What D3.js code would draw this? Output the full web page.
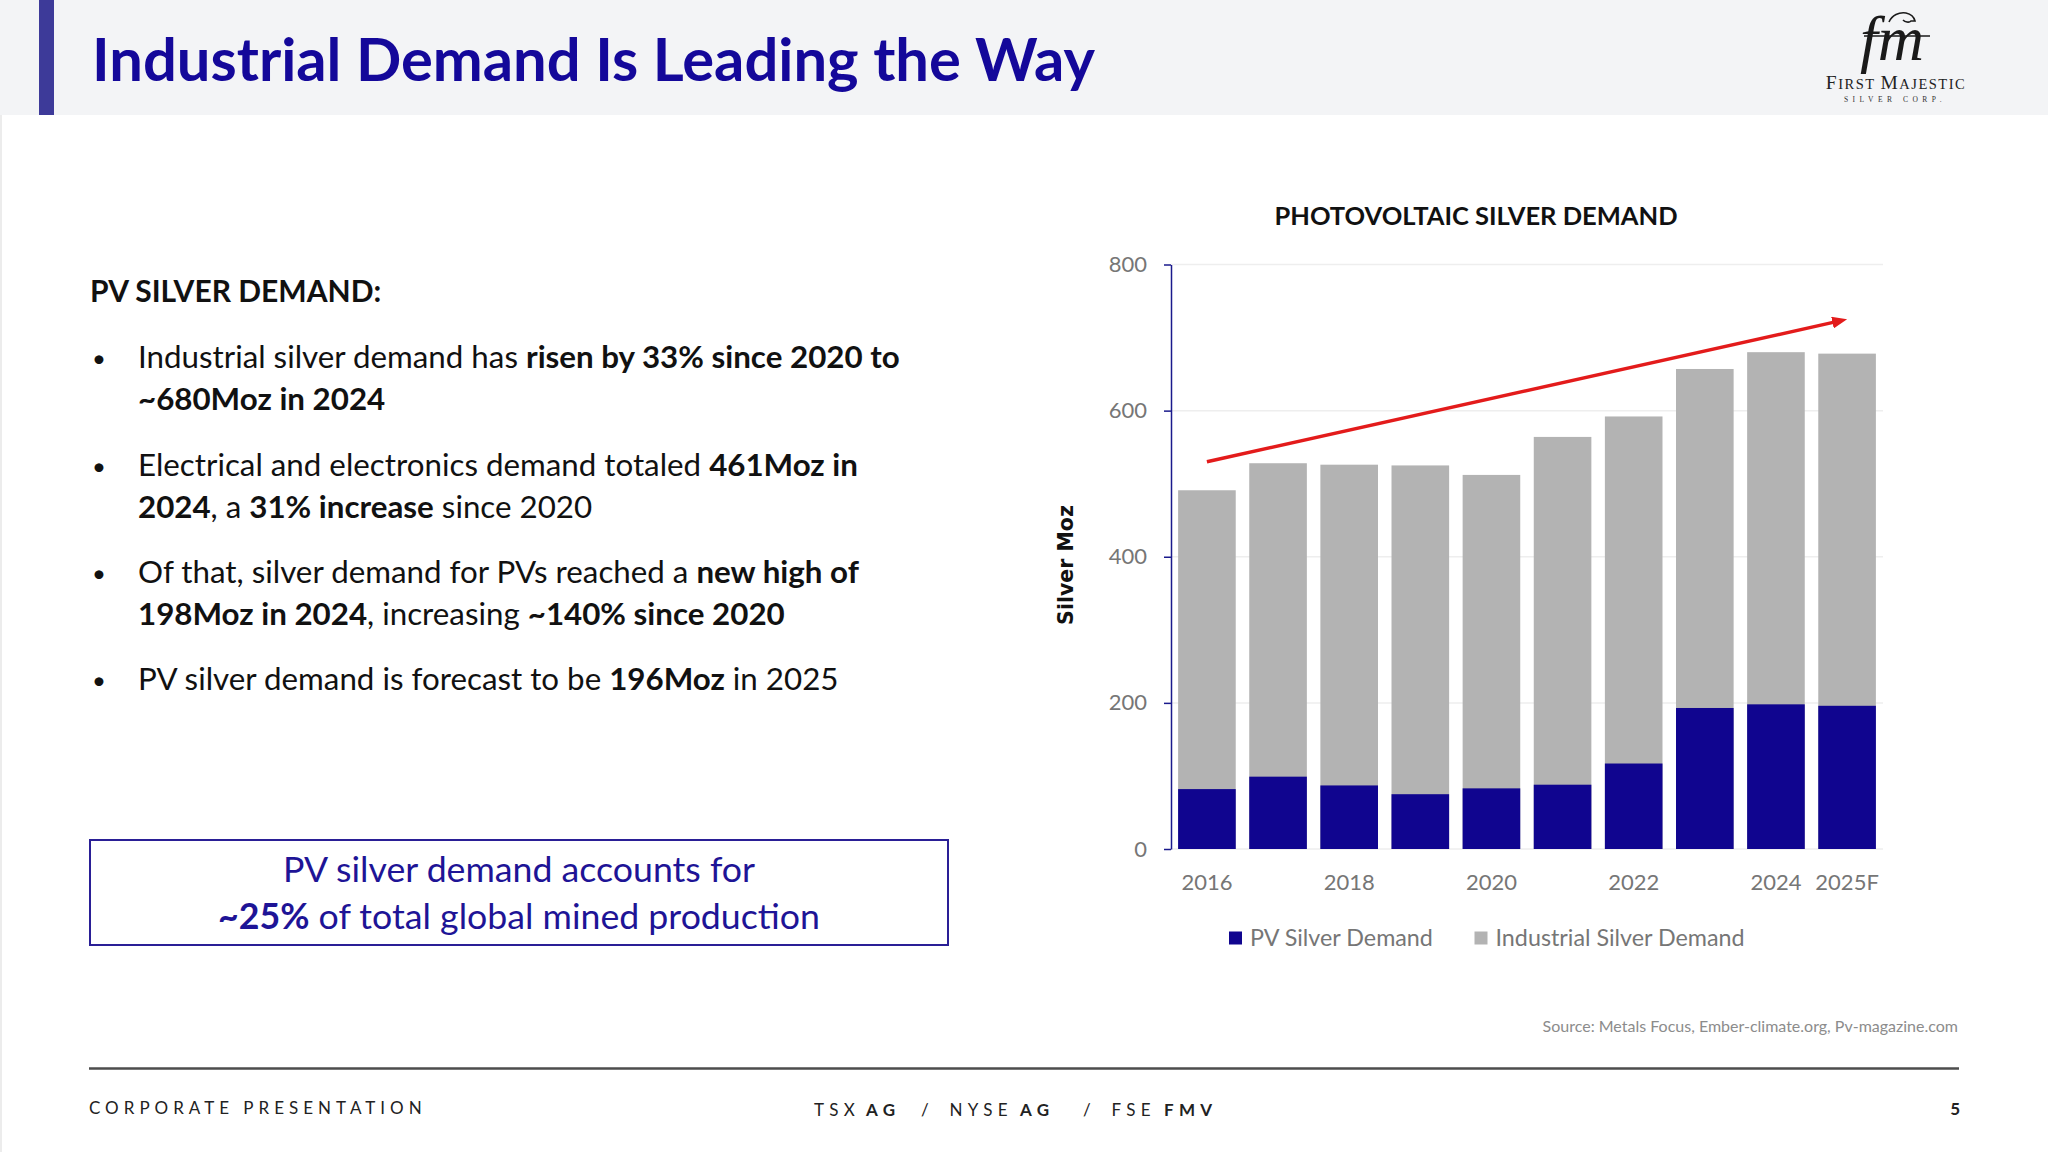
<!DOCTYPE html>
<html>
<head>
<meta charset="utf-8">
<script src="https://cdn.jsdelivr.net/npm/d3@7"></script>
<style>
  body { margin: 0; background: #fff; }
  svg text { font-family: Lato, "Open Sans", sans-serif; white-space: pre; }
</style>
</head>
<body>
<div id="container"></div>
<script>

// chart values
var years = ['2016', '2017', '2018', '2019', '2020', '2021', '2022', '2023', '2024', '2025F'];
var industrialDemand = [491, 528, 526, 525, 512, 564, 592, 657, 680, 678];
var pvDemand = [82, 99, 87, 75, 83, 88, 117, 193, 198, 196];
var yTicks = [0, 200, 400, 600, 800];
var xTickLabels = ['2016', '2018', '2020', '2022', '2024', '2025F'];
var legendLabels = ['PV Silver Demand', 'Industrial Silver Demand'];
// trend arrow drawn over the bars: [category, value]
var trendFrom = ['2016', 530];
var trendTo = ['2025F', 725];

// slide texts
var slideTitle = 'Industrial Demand Is Leading the Way';
var chartTitle = 'PHOTOVOLTAIC SILVER DEMAND';
var yLabel = 'Silver Moz';
var bulletHeading = 'PV SILVER DEMAND:';
// each bullet = lines, each line = [text, bold] pieces
var bullets = [
	[[['Industrial silver demand has ', 0], ['risen by 33% since 2020 to', 1]],
	 [['~680Moz in 2024', 1]]],
	[[['Electrical and electronics demand totaled ', 0], ['461Moz in', 1]],
	 [['2024', 1], [', a ', 0], ['31% increase', 1], [' since 2020', 0]]],
	[[['Of that, silver demand for PVs reached a ', 0], ['new high of', 1]],
	 [['198Moz in 2024', 1], [', increasing ', 0], ['~140% since 2020', 1]]],
	[[['PV silver demand is forecast to be ', 0], ['196Moz', 1], [' in 2025', 0]]]
];
var boxLines = [[['PV silver demand accounts for', 0]],
	[['~25%', 1], [' of total global mined production', 0]]];
var sourceNote = 'Source: Metals Focus, Ember-climate.org, Pv-magazine.com';

var width = 2048, height = 1152;
var plot = {left: 1171, right: 1883, top: 264.5, bottom: 849};

var navy = '#10058f';
var grey = '#b3b3b3';
var textGrey = '#767676';

var svg = d3.select('#container').append('svg')
	.attr('width', width)
	.attr('height', height);

function richLine(sel, pieces) {
	pieces.forEach(function(p) {
		sel.append('tspan')
			.attr('font-weight', p[1] ? 700 : 400)
			.text(p[0]);
	});
}

function drawSlide() {
	// header band
	svg.append('rect').attr('x', 0).attr('y', 0).attr('width', width).attr('height', 115)
		.attr('fill', '#f3f4f6');
	svg.append('rect').attr('x', 39).attr('y', 0).attr('width', 15).attr('height', 115)
		.attr('fill', '#3d3a99');
	svg.append('rect').attr('x', 0).attr('y', 115).attr('width', 2).attr('height', height - 115)
		.attr('fill', '#ececec');

	svg.append('text')
		.attr('x', 92).attr('y', 81)
		.attr('font-size', 59.7).attr('font-weight', 700)
		.attr('fill', '#14089a')
		.text(slideTitle);

	// logo
	var logo = svg.append('g').attr('class', 'logo');
	logo.append('text')
		.attr('x', 1860).attr('y', 60)
		.attr('font-style', 'italic')
		.attr('font-size', 64)
		.attr('fill', '#1a1a1a')
		.style('font-family', '"Liberation Serif", serif')
		.text('fm');
	logo.append('line')
		.attr('x1', 1864).attr('x2', 1930).attr('y1', 36).attr('y2', 36)
		.attr('stroke', '#1a1a1a').attr('stroke-width', 1.4);
	logo.append('path')
		.attr('d', 'M1889,22 C1892,15 1899,12 1906,13 C1911,14 1914,17 1915,21 L1911,21 C1909,23 1905,22 1903,20')
		.attr('fill', 'none').attr('stroke', '#1a1a1a').attr('stroke-width', 1.6);
	var fm = logo.append('text')
		.attr('x', 1896).attr('y', 89)
		.attr('text-anchor', 'middle')
		.attr('letter-spacing', 1.5)
		.attr('fill', '#222')
		.style('font-family', '"Liberation Serif", serif');
	fm.append('tspan').attr('font-size', 19.5).text('F');
	fm.append('tspan').attr('font-size', 14.5).text('IRST ');
	fm.append('tspan').attr('font-size', 19.5).text('M');
	fm.append('tspan').attr('font-size', 14.5).text('AJESTIC');
	logo.append('text')
		.attr('x', 1895).attr('y', 102)
		.attr('text-anchor', 'middle')
		.attr('font-size', 7.5)
		.attr('letter-spacing', 4.5)
		.attr('fill', '#333')
		.style('font-family', '"Liberation Serif", serif')
		.text('SILVER CORP.');

	// left column
	svg.append('text')
		.attr('x', 90).attr('y', 302)
		.attr('font-size', 30).attr('font-weight', 700)
		.attr('fill', '#111')
		.text(bulletHeading);

	var bulletTop = [368, 476, 583, 690];
	bullets.forEach(function(b, i) {
		svg.append('text')
			.attr('x', 92).attr('y', bulletTop[i] - 1)
			.attr('font-size', 24).attr('fill', '#111')
			.text('\u2022');
		b.forEach(function(line, j) {
			var t = svg.append('text')
				.attr('x', 138).attr('y', bulletTop[i] + j * 41.5)
				.attr('font-size', 31.3).attr('fill', '#111');
			richLine(t, line);
		});
	});

	// highlight box
	svg.append('rect')
		.attr('x', 90).attr('y', 840).attr('width', 858).attr('height', 105)
		.attr('fill', 'none').attr('stroke', '#2a1f96').attr('stroke-width', 2);
	boxLines.forEach(function(line, j) {
		var t = svg.append('text')
			.attr('x', 519).attr('y', 882 + j * 47)
			.attr('text-anchor', 'middle')
			.attr('font-size', 35.7).attr('fill', '#1e1496');
		richLine(t, line);
	});

	// source + footer
	svg.append('text')
		.attr('x', 1958).attr('y', 1032)
		.attr('text-anchor', 'end')
		.attr('font-size', 16).attr('fill', '#8c8c8c')
		.text(sourceNote);

	svg.append('line')
		.attr('x1', 89).attr('x2', 1959).attr('y1', 1068.5).attr('y2', 1068.5)
		.attr('stroke', '#4d4d4d').attr('stroke-width', 2.5);

	svg.append('text')
		.attr('x', 89).attr('y', 1114)
		.attr('font-size', 17).attr('letter-spacing', 5.0).attr('fill', '#222')
		.text('CORPORATE PRESENTATION');

	var ticker = [['TSX', 0, 814], ['AG', 1, 866], ['/', 0, 921], ['NYSE', 0, 949.5],
		['AG', 1, 1020], ['/', 0, 1083], ['FSE', 0, 1111.5], ['FMV', 1, 1164]];
	var tk = svg.append('text').attr('y', 1116)
		.attr('font-size', 17).attr('letter-spacing', 5.3).attr('fill', '#222');
	ticker.forEach(function(d) {
		tk.append('tspan').attr('x', d[2]).attr('font-weight', d[1] ? 700 : 400).text(d[0]);
	});

	svg.append('text')
		.attr('x', 1960).attr('y', 1115)
		.attr('text-anchor', 'end')
		.attr('font-size', 17).attr('font-weight', 700).attr('fill', '#222')
		.text('5');
}

function drawChart() {
	var x = d3.scaleBand()
		.domain(years)
		.range([plot.left, plot.right])
		.paddingInner(0.19)
		.paddingOuter(0.1);
	var y = d3.scaleLinear()
		.domain([0, 800])
		.range([plot.bottom, plot.top]);

	var g = svg.append('g').attr('id', 'chart');

	g.append('text')
		.attr('x', 1476).attr('y', 225)
		.attr('text-anchor', 'middle')
		.attr('font-size', 25.5).attr('font-weight', 700).attr('fill', '#111')
		.text(chartTitle);

	// gridlines
	g.selectAll('.grid')
		.data(yTicks).enter()
		.append('line')
			.attr('class', 'grid')
			.attr('x1', plot.left).attr('x2', plot.right)
			.attr('y1', function(d) { return y(d); })
			.attr('y2', function(d) { return y(d); })
			.attr('stroke', '#eeeeee').attr('stroke-width', 1.5);

	// industrial (total) then PV on top
	g.selectAll('.bar-ind')
		.data(industrialDemand).enter()
		.append('rect')
			.attr('class', 'bar-ind')
			.attr('x', function(d, i) { return x(years[i]); })
			.attr('width', x.bandwidth())
			.attr('y', function(d) { return y(d); })
			.attr('height', function(d) { return y(0) - y(d); })
			.attr('fill', grey);

	g.selectAll('.bar-pv')
		.data(pvDemand).enter()
		.append('rect')
			.attr('class', 'bar-pv')
			.attr('x', function(d, i) { return x(years[i]); })
			.attr('width', x.bandwidth())
			.attr('y', function(d) { return y(d); })
			.attr('height', function(d) { return y(0) - y(d); })
			.attr('fill', navy);

	// y axis
	var yAxis = d3.axisLeft(y).tickValues(yTicks).tickSize(7).tickSizeOuter(0).tickPadding(17);
	var ya = g.append('g')
		.attr('class', 'y axis')
		.attr('transform', 'translate(' + plot.left + ',0)')
		.call(yAxis);
	ya.select('.domain').attr('stroke', '#1a1a8c').attr('stroke-width', 1.5);
	ya.selectAll('.tick line').attr('stroke', '#1a1a8c').attr('stroke-width', 1.5);
	ya.selectAll('text')
		.attr('font-family', 'Lato').attr('font-size', 22).attr('fill', textGrey);

	// x axis (labels only)
	var xa = g.append('g')
		.attr('class', 'x axis')
		.attr('transform', 'translate(0,' + plot.bottom + ')')
		.call(d3.axisBottom(x).tickValues(xTickLabels).tickSize(0));
	xa.select('.domain').remove();
	xa.selectAll('text')
		.attr('y', 33).attr('dy', '.35em')
		.attr('font-family', 'Lato').attr('font-size', 22).attr('fill', textGrey);

	g.append('text')
		.attr('transform', 'translate(1073,565) rotate(-90)')
		.attr('text-anchor', 'middle')
		.attr('font-size', 20.5).attr('font-weight', 700).attr('fill', '#111')
		.style('font-family', '"DejaVu Sans", sans-serif')
		.text(yLabel);

	// trend arrow
	var x0 = x(trendFrom[0]) + x.bandwidth() / 2, y0 = y(trendFrom[1]);
	var x1 = x(trendTo[0]) + x.bandwidth() / 2, y1 = y(trendTo[1]);
	var len = Math.sqrt((x1 - x0) * (x1 - x0) + (y1 - y0) * (y1 - y0));
	var ux = (x1 - x0) / len, uy = (y1 - y0) / len;
	g.append('defs').append('marker')
		.attr('id', 'arrowhead')
		.attr('markerUnits', 'userSpaceOnUse')
		.attr('markerWidth', 16).attr('markerHeight', 12)
		.attr('refX', 3).attr('refY', 6)
		.attr('orient', 'auto')
		.append('path')
			.attr('d', 'M0,0 L15,6 L0,12 Z')
			.attr('fill', '#e31b1b');
	g.append('line')
		.attr('x1', x0).attr('y1', y0)
		.attr('x2', x1 - 12 * ux).attr('y2', y1 - 12 * uy)
		.attr('stroke', '#e31b1b').attr('stroke-width', 3.5)
		.attr('marker-end', 'url(#arrowhead)');

	// legend
	var legendColors = [navy, grey];
	var legendX = [1229, 1474.5];
	var legend = g.selectAll('.legend')
		.data(legendLabels).enter()
		.append('g')
			.attr('class', 'legend')
			.attr('transform', function(d, i) { return 'translate(' + legendX[i] + ',938)'; });
	legend.append('rect')
		.attr('x', 0).attr('y', -6.5)
		.attr('width', 13).attr('height', 13)
		.attr('fill', function(d, i) { return legendColors[i]; });
	legend.append('text')
		.attr('x', 21).attr('dy', '.35em')
		.attr('font-size', 23.3).attr('fill', textGrey)
		.text(function(d) { return d; });
}

drawSlide();
drawChart();

</script>
</body>
</html>
